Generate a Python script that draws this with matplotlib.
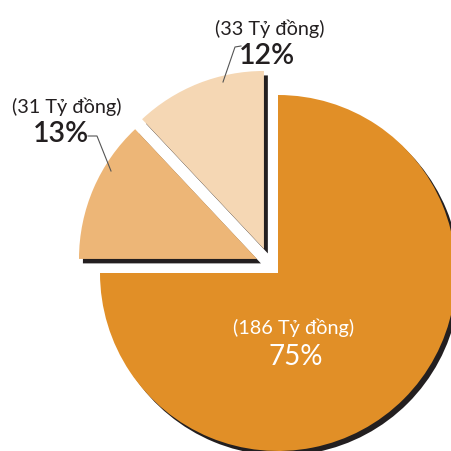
import matplotlib
matplotlib.use("Agg")
import matplotlib.pyplot as plt

# ---- data ----
amounts = [186, 31, 33]              # Tỷ đồng
percents = [75, 13, 12]              # as printed
amount_labels = ["(186 Tỷ đồng)", "(31 Tỷ đồng)", "(33 Tỷ đồng)"]
pct_labels = ["75%", "13%", "12%"]
colors = ["#E18F27", "#EDB677", "#F5D7B4"]

# ---- styling / positions ----
SHADOW = "#231F20"
TEXT = "#231F20"
FAMILY = ["Lato", "DejaVu Sans"]
PX = 178.0                 # pixels per unit radius
CX, CY = 278.0, 274.0      # pie centre in pixels (from top-left)
offsets = [(0.0, 0.0), (-0.118, 0.079), (-0.079, 0.135)]
shadow_shift = (0.022, -0.025)


def d(px, py):
    return ((px - CX) / PX, (CY - py) / PX)


fig = plt.figure(figsize=(4.52, 4.52), dpi=100)
ax = fig.add_axes([0, 0, 1, 1])

sh_wedges, _ = ax.pie(percents, startangle=90, counterclock=False,
                      colors=[SHADOW] * 3, radius=1.0,
                      wedgeprops=dict(linewidth=0))
wedges, _ = ax.pie(percents, startangle=90, counterclock=False,
                   colors=colors, radius=1.0,
                   wedgeprops=dict(linewidth=0))
for w, s, (ox, oy) in zip(wedges, sh_wedges, offsets):
    w.set_center((ox, oy))
    s.set_center((ox + shadow_shift[0], oy + shadow_shift[1]))
    w.set_zorder(3)
    s.set_zorder(2)

ax.set_xlim(-CX / PX, (452 - CX) / PX)
ax.set_ylim(-(452 - CY) / PX, CY / PX)
ax.set_aspect("equal")
ax.axis("off")

# labels
ax.text(*d(294, 328), amount_labels[0], color="white", fontsize=14.3,
        ha="center", va="center", family=FAMILY, zorder=5)
ax.text(*d(296, 357), pct_labels[0], color="white", fontsize=20,
        ha="center", va="center", family=FAMILY, zorder=5)

ax.text(*d(67, 107), amount_labels[1], color=TEXT, fontsize=14.3,
        ha="center", va="center", family=FAMILY, zorder=5)
ax.text(*d(61, 134), pct_labels[1], color=TEXT, fontsize=20.5,
        ha="center", va="center", family=FAMILY, fontweight="semibold", zorder=5)

ax.text(*d(270, 29), amount_labels[2], color=TEXT, fontsize=14.3,
        ha="center", va="center", family=FAMILY, zorder=5)
ax.text(*d(267, 56), pct_labels[2], color=TEXT, fontsize=20.5,
        ha="center", va="center", family=FAMILY, fontweight="semibold", zorder=5)

# leader lines
for pts in ([(223, 83), (235, 48), (241, 47)], [(88, 137), (97, 137), (111, 172)]):
    xs, ys = zip(*[d(*p) for p in pts])
    ax.plot(xs, ys, color="#555555", lw=0.8, zorder=6)

fig.savefig("out.png", dpi=100)
